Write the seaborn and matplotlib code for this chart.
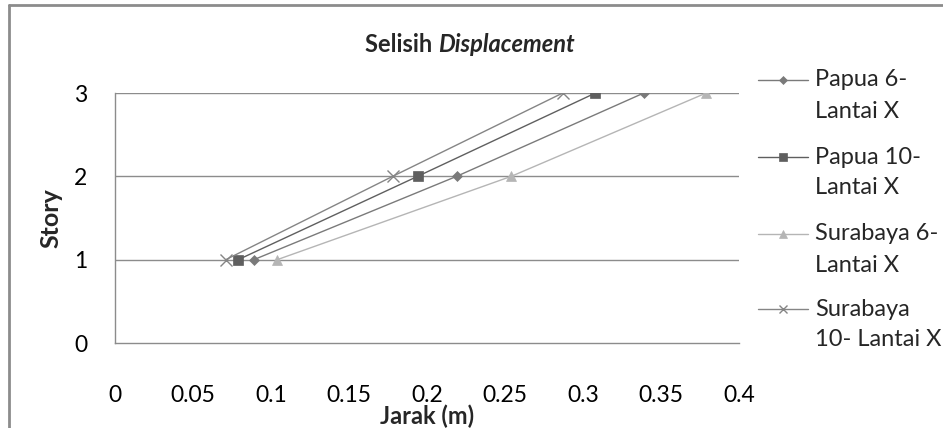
import matplotlib
matplotlib.use("Agg")
import matplotlib.pyplot as plt
import seaborn as sns
import pandas as pd
from matplotlib.lines import Line2D

stories = [1, 2, 3]
papua6 = [0.089, 0.219, 0.339]
papua10 = [0.079, 0.194, 0.308]
surabaya6 = [0.104, 0.254, 0.379]
surabaya10 = [0.071, 0.178, 0.287]
series_names = ["Papua 6-\nLantai X", "Papua 10-\nLantai X", "Surabaya 6-\nLantai X", "Surabaya\n10- Lantai X"]
x_ticks = [0, 0.05, 0.1, 0.15, 0.2, 0.25, 0.3, 0.35, 0.4]
x_tick_labels = ["0", "0.05", "0.1", "0.15", "0.2", "0.25", "0.3", "0.35", "0.4"]
y_ticks = [0, 1, 2, 3]

sns.set_theme(style="white")
FONT = "Lato"
plt.rcParams['font.family'] = [FONT, 'DejaVu Sans']

W, H = 943, 428
fig = plt.figure(figsize=(W/100, H/100), dpi=100)
ax = fig.add_axes([115/W, 1-343/H, (739-115)/W, (343-93)/H])

styles = [
    (papua6, "D", "#7a7a7a", 5, 1.0),
    (papua10, "s", "#5f5f5f", 7.5, 1.0),
    (surabaya6, "^", "#b5b5b5", 7.5, 1.0),
    (surabaya10, "x", "#858585", 8, 1.0),
]
for (vals, mk, col, ms, lw), name in zip(styles, series_names):
    df = pd.DataFrame({"x": vals, "y": stories})
    sns.lineplot(data=df, x="x", y="y", ax=ax, color=col, marker=mk, markersize=ms,
                 linewidth=lw, sort=False, markeredgecolor=col,
                 markeredgewidth=1.0 if mk == "x" else 0.5, legend=False)

ax.set_xlim(0, 0.4)
ax.set_ylim(0, 3)
ax.set_xticks(x_ticks)
ax.set_xticklabels(x_tick_labels)
ax.set_yticks(y_ticks)
for y in [1, 2, 3]:
    ax.axhline(y, color="#8c8c8c", lw=1.0, zorder=0)
for s in ["top", "right"]:
    ax.spines[s].set_visible(False)
for s in ["left", "bottom"]:
    ax.spines[s].set_color("#8c8c8c")
    ax.spines[s].set_linewidth(1.0)
FS = 16.5
ax.tick_params(axis="x", length=0, pad=30, labelsize=FS, colors="black")
ax.tick_params(axis="y", length=0, pad=20, labelsize=FS, colors="black")
ax.set_xlabel("Jarak (m)", fontsize=17, fontweight="bold", labelpad=-1)
ax.set_ylabel("Story", fontsize=18, fontweight="bold", labelpad=8)

# title in two styles, centred over the whole chart area
renderer = fig.canvas.get_renderer()
t1 = fig.text(0, 0, "Selisih ", fontsize=17, fontweight="bold")
t2 = fig.text(0, 0, "Displacement", fontsize=17, fontweight="bold", style="italic")
w1 = t1.get_window_extent(renderer).width
w2 = t2.get_window_extent(renderer).width
cx = 470
y_title = 1 - 44/H
x1 = (cx - (w1 + w2) / 2) / W
t1.set_position((x1, y_title)); t1.set_va("center")
t2.set_position((x1 + w1/W, y_title)); t2.set_va("center")

# legend drawn manually: handle aligned with first text line
entry_y = [80, 157, 234, 309]
line_gap = 31
for (vals, mk, col, ms, lw), name, yp in zip(styles, series_names, entry_y):
    yf = 1 - yp/H
    fig.add_artist(Line2D([758/W, 808/W], [yf, yf], color=col, lw=lw, transform=fig.transFigure))
    fig.add_artist(Line2D([783/W], [yf], color=col, marker=mk, markersize=ms*0.8,
                          markeredgecolor=col, markeredgewidth=1.0 if mk == "x" else 0.5,
                          linestyle="none", transform=fig.transFigure))
    for i, line in enumerate(name.split("\n")):
        fig.text(815/W, 1 - (yp + i*line_gap)/H, line, fontsize=17, va="center", ha="left",
                 transform=fig.transFigure)

# outer chart frame (left and top edges)
fig.add_artist(Line2D([9/W, 9/W], [0, 1-5/H], color="#8c8c8c", lw=2, transform=fig.transFigure))
fig.add_artist(Line2D([9/W, 1], [1-5/H, 1-5/H], color="#8c8c8c", lw=2, transform=fig.transFigure))

fig.savefig("out.png", dpi=100)
